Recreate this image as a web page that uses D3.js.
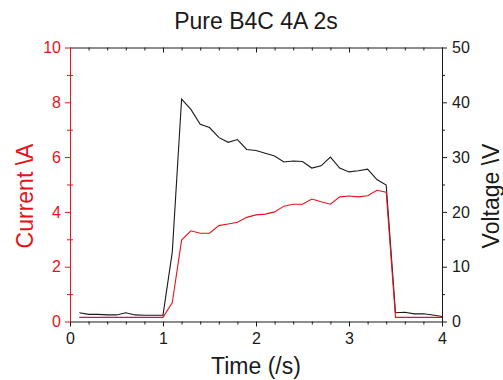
<html>
<meta charset="UTF-8">
<head>
    <title>Pure B4C 4A 2s</title>
    <script src="https://d3js.org/d3.v7.min.js"></script>
    <style>
        body {
            margin: 0;
            background: white;
            font-family: "Liberation Sans", Arial, sans-serif;
        }
        .tick text {
            font-family: "Liberation Sans", Arial, sans-serif;
        }
    </style>
</head>
<body>
    <svg id="graph" height=380 width=503></svg>
</body>
<script>
    // data
    const time = [0.1, 0.2, 0.3, 0.4, 0.5, 0.6, 0.7, 0.8, 0.9, 1.0,
                  1.1, 1.2, 1.3, 1.4, 1.5, 1.6, 1.7, 1.8, 1.9, 2.0,
                  2.1, 2.2, 2.3, 2.4, 2.5, 2.6, 2.7, 2.8, 2.9, 3.0,
                  3.1, 3.2, 3.3, 3.4, 3.5, 3.6, 3.7, 3.8, 3.9, 4.0];
    const current = [0.15, 0.15, 0.15, 0.15, 0.15, 0.15, 0.15, 0.15, 0.15, 0.15,
                     0.69, 2.97, 3.31, 3.22, 3.22, 3.50, 3.56, 3.62, 3.80, 3.89,
                     3.92, 4.00, 4.21, 4.28, 4.28, 4.47, 4.37, 4.28, 4.55, 4.58,
                     4.55, 4.59, 4.79, 4.72, 0.15, 0.15, 0.15, 0.15, 0.15, 0.15];
    const voltage = [1.6, 1.3, 1.3, 1.2, 1.2, 1.6, 1.2, 1.15, 1.15, 1.15,
                     12.7, 40.6, 38.7, 36.0, 35.4, 33.6, 32.7, 33.2, 31.4, 31.2,
                     30.7, 30.2, 29.1, 29.3, 29.2, 28.0, 28.4, 30.0, 28.0, 27.3,
                     27.5, 27.8, 25.9, 24.9, 1.6, 1.7, 1.4, 1.4, 1.2, 0.9];

    const xMajor = [0, 1, 2, 3, 4];
    const xMinor = [0.2, 0.4, 0.6, 0.8, 1.2, 1.4, 1.6, 1.8, 2.2, 2.4, 2.6, 2.8, 3.2, 3.4, 3.6, 3.8];
    const currentMajor = [0, 2, 4, 6, 8, 10];
    const currentMinor = [1, 3, 5, 7, 9];
    const voltageMajor = [0, 10, 20, 30, 40, 50];
    const voltageMinor = [5, 15, 25, 35, 45];

    const red = "#e5131b";
    const ink = "#1a1a1a";

    const g = d3.select("svg#graph");
    const width = g.attr("width");
    const height = g.attr("height");
    const margin = {top: 47.5, right: 61, bottom: 58.5, left: 70};
    const chartWidth = width - margin.left - margin.right;
    const chartHeight = height - margin.top - margin.bottom;

    const timeScale = d3.scaleLinear().domain([0, 4]).range([0, chartWidth]);
    const currentScale = d3.scaleLinear().domain([0, 10]).range([chartHeight, 0]);
    const voltageScale = d3.scaleLinear().domain([0, 50]).range([chartHeight, 0]);

    let annotations = g.append("g").attr("id", "annotations");
    let chartArea = g.append("g").attr("id", "lines")
        .attr("transform", `translate(${margin.left},${margin.top})`);

    // --- lines
    const rows = time.map((t, i) => ({t: t, c: current[i], v: voltage[i]}));

    chartArea.append("path")
        .datum(rows)
        .attr("fill", "none")
        .attr("stroke", ink)
        .attr("stroke-width", 1.1)
        .attr("d", d3.line().x(d => timeScale(d.t)).y(d => voltageScale(d.v)));

    chartArea.append("path")
        .datum(rows)
        .attr("fill", "none")
        .attr("stroke", red)
        .attr("stroke-width", 1.1)
        .attr("d", d3.line().x(d => timeScale(d.t)).y(d => currentScale(d.c)));

    // --- axes
    const styleAxis = function(sel, colour) {
        sel.selectAll("path, line").attr("stroke", colour).attr("stroke-width", 1);
        sel.selectAll("text").attr("fill", colour).style("font-size", "16px");
    };

    // top axis: ticks point inward
    annotations.append("g")
        .attr("transform", `translate(${margin.left},${margin.top})`)
        .call(d3.axisBottom(timeScale).tickValues(xMajor).tickSize(5).tickSizeOuter(0).tickFormat(""))
        .call(s => styleAxis(s, ink));
    annotations.append("g")
        .attr("transform", `translate(${margin.left},${margin.top})`)
        .call(d3.axisBottom(timeScale).tickValues(xMinor).tickSize(3).tickFormat(""))
        .call(s => s.select(".domain").remove())
        .call(s => styleAxis(s, ink));

    // bottom axis
    annotations.append("g")
        .attr("transform", `translate(${margin.left},${margin.top + chartHeight})`)
        .call(d3.axisBottom(timeScale).tickValues(xMajor).tickSize(5).tickSizeOuter(0).tickPadding(6).tickFormat(d3.format("d")))
        .call(s => styleAxis(s, ink));
    annotations.append("g")
        .attr("transform", `translate(${margin.left},${margin.top + chartHeight})`)
        .call(d3.axisBottom(timeScale).tickValues(xMinor).tickSize(3).tickFormat(""))
        .call(s => s.select(".domain").remove())
        .call(s => styleAxis(s, ink));

    // right axis (voltage)
    annotations.append("g")
        .attr("transform", `translate(${margin.left + chartWidth},${margin.top})`)
        .call(d3.axisRight(voltageScale).tickValues(voltageMajor).tickSize(5).tickSizeOuter(0).tickPadding(5))
        .call(s => styleAxis(s, ink));
    annotations.append("g")
        .attr("transform", `translate(${margin.left + chartWidth},${margin.top})`)
        .call(d3.axisRight(voltageScale).tickValues(voltageMinor).tickSize(3).tickFormat(""))
        .call(s => s.select(".domain").remove())
        .call(s => styleAxis(s, ink));

    // left axis (current), red
    annotations.append("g")
        .attr("transform", `translate(${margin.left},${margin.top})`)
        .call(d3.axisLeft(currentScale).tickValues(currentMajor).tickSize(5).tickSizeOuter(0).tickPadding(4))
        .call(s => styleAxis(s, red));
    annotations.append("g")
        .attr("transform", `translate(${margin.left + 3},${margin.top})`)
        .call(d3.axisLeft(currentScale).tickValues(currentMinor).tickSize(6).tickFormat(""))
        .call(s => s.select(".domain").remove())
        .call(s => styleAxis(s, red));

    // --- title and axis labels
    g.append("text")
        .attr("x", margin.left + chartWidth / 2)
        .attr("y", 29)
        .attr("text-anchor", "middle")
        .attr("font-size", "23px")
        .attr("fill", ink)
        .text("Pure B4C 4A 2s");

    g.append("text")
        .attr("x", margin.left + chartWidth / 2)
        .attr("y", 374)
        .attr("text-anchor", "middle")
        .attr("font-size", "23px")
        .attr("fill", ink)
        .text("Time (/s)");

    g.append("text")
        .attr("transform", "translate(33,196) rotate(-90)")
        .attr("text-anchor", "middle")
        .attr("font-size", "23px")
        .attr("fill", red)
        .text("Current \\A");

    g.append("text")
        .attr("transform", "translate(499,196) rotate(-90)")
        .attr("text-anchor", "middle")
        .attr("font-size", "23px")
        .attr("fill", ink)
        .text("Voltage \\V");
</script>
</html>
